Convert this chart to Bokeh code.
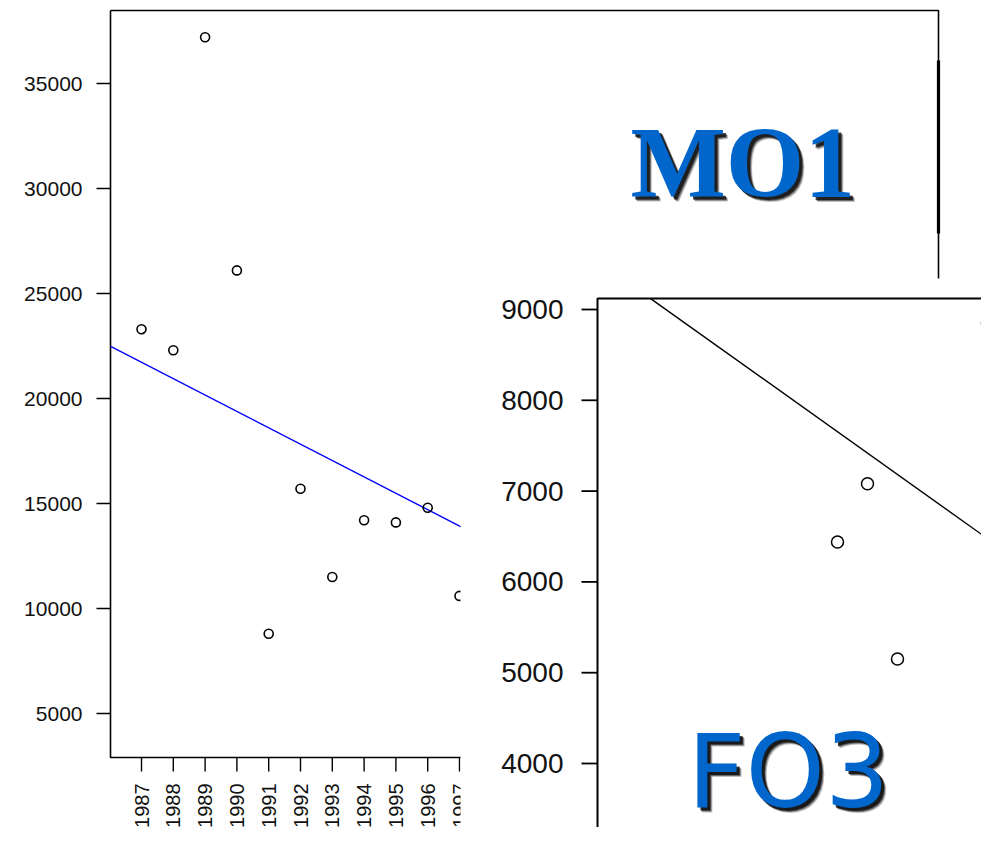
import math
from bokeh.plotting import figure
from bokeh.models import Range1d
from bokeh.core.properties import value
from bokeh.embed import file_html
from bokeh.resources import INLINE

# ---------------- data ----------------
mo1_years = [1987, 1988, 1989, 1990, 1991, 1992, 1993, 1994, 1995, 1996, 1997]
mo1_values = [23300, 22300, 37200, 26100, 8800, 15700, 11500, 14200, 14100, 14800, 10600]
mo1_fit_years = [1986.03, 1997.6]
mo1_fit_values = [22480, 13460]
mo1_ytick_values = [5000, 10000, 15000, 20000, 25000, 30000, 35000]
mo1_ytick_labels = ["5000", "10000", "15000", "20000", "25000", "30000", "35000"]
mo1_xtick_values = [1987, 1988, 1989, 1990, 1991, 1992, 1993, 1994, 1995, 1996, 1997]
mo1_xtick_labels = ["1987", "1988", "1989", "1990", "1991", "1992", "1993", "1994", "1995", "1996", "1997"]

fo3_index = [8, 9, 10, 13]
fo3_values = [6440, 7080, 5150, 8850]
fo3_fit_index = [1.77, 13.07]
fo3_fit_values = [9120, 6460]
fo3_ytick_values = [4000, 5000, 6000, 7000, 8000, 9000]
fo3_ytick_labels = ["4000", "5000", "6000", "7000", "8000", "9000"]

# ---------------- layout (picture pixels) ----------------
W, H = 981, 827
X0, Y0 = 0, 0


def p1x(X):
    return 1987 + (X - 141) / 31.8


def p1y(Y):
    return 35000 - (Y - 83) / 0.021


def p2x(X):
    return 8 + (X - 837) / 30.0


def p2y(Y):
    return 9000 - (Y - 309) / 0.0908


p = figure(width=W, height=H, output_backend="svg", toolbar_location=None,
           x_axis_location=None, y_axis_location=None,
           x_range=Range1d(p1x(X0), p1x(X0 + W)),
           y_range=Range1d(p1y(Y0 + H), p1y(Y0)),
           min_border=0, background_fill_color="white", border_fill_color="white")
p.outline_line_color = None
p.grid.visible = False
p.extra_x_ranges = {"fo3x": Range1d(p2x(X0), p2x(X0 + W))}
p.extra_y_ranges = {"fo3y": Range1d(p2y(Y0 + H), p2y(Y0))}

LAB = value("Liberation Sans")

# ---------------- panel 1 (MO1) ----------------
fl, fr, ft, fb = p1x(110), p1x(938), p1y(10), p1y(757)
p.line([fl, fr, fr, fl, fl], [ft, ft, fb, fb, ft], line_color="black", line_width=1.6)
# thick piece on the right border
p.line([fr, fr], [p1y(60), p1y(233)], line_color="black", line_width=3.2)

# y axis
p.segment(x0=[fl] * len(mo1_ytick_values), y0=mo1_ytick_values,
          x1=[p1x(96)] * len(mo1_ytick_values), y1=mo1_ytick_values,
          line_color="black", line_width=1.4)
p.text(x=[p1x(82)] * len(mo1_ytick_values), y=mo1_ytick_values, text=mo1_ytick_labels,
       text_font=LAB, text_font_size="21px", text_align="right", text_baseline="middle",
       text_color="#111111")
# x axis
p.segment(x0=mo1_xtick_values, y0=[fb] * len(mo1_xtick_values),
          x1=mo1_xtick_values, y1=[p1y(771)] * len(mo1_xtick_values),
          line_color="black", line_width=1.4)
p.text(x=mo1_xtick_values, y=[p1y(783)] * len(mo1_xtick_values), text=mo1_xtick_labels,
       angle=math.pi / 2, text_font=LAB, text_font_size="20px", text_align="right",
       text_baseline="middle", text_color="#111111")

p.line(mo1_fit_years, mo1_fit_values, line_color="#0000ff", line_width=1.4)
p.scatter(mo1_years, mo1_values, marker="circle", size=9, fill_color=None,
          line_color="black", line_width=1.6)

# MO1 title with drop shadow
MO_X, MO_Y = 630, 162
MO_SIZE = "101px"
for dx, dy, a in [(5, 5, 0.25), (4, 4, 0.45), (3, 3, 0.7)]:
    p.text(x=[p1x(MO_X + dx)], y=[p1y(MO_Y + dy)], text=["MO1"],
           text_font=value("Liberation Serif"), text_font_style="bold",
           text_font_size=MO_SIZE, text_align="left", text_baseline="middle",
           text_color="black", text_alpha=a)
p.text(x=[p1x(MO_X)], y=[p1y(MO_Y)], text=["MO1"],
       text_font=value("Liberation Serif"), text_font_style="bold",
       text_font_size=MO_SIZE, text_align="left", text_baseline="middle",
       text_color="#0066cc")

# ---------------- panel 2 (FO3) ----------------
R2 = dict(x_range_name="fo3x", y_range_name="fo3y")
p.quad(left=[p2x(460)], right=[p2x(X0 + W + 2)], bottom=[p2y(Y0 + H + 2)], top=[p2y(278)],
       fill_color="white", line_color=None, **R2)
gl, gt = p2x(597), p2y(298)
p.line([p2x(X0 + W + 2), gl, gl], [gt, gt, p2y(Y0 + H + 2)], line_color="black",
       line_width=2.0, **R2)
p.segment(x0=[gl] * len(fo3_ytick_values), y0=fo3_ytick_values,
          x1=[p2x(581)] * len(fo3_ytick_values), y1=fo3_ytick_values,
          line_color="black", line_width=1.8, **R2)
p.text(x=[p2x(563)] * len(fo3_ytick_values), y=fo3_ytick_values, text=fo3_ytick_labels,
       text_font=LAB, text_font_size="28px", text_align="right", text_baseline="middle",
       text_color="#111111", **R2)
p.line(fo3_fit_index, fo3_fit_values, line_color="black", line_width=1.4, **R2)
p.scatter(fo3_index, fo3_values, marker="circle", size=12, fill_color=None,
          line_color="black", line_width=1.5, **R2)

FO_X, FO_Y = 687, 771
for dx, dy, a in [(5, 5, 0.25), (4, 4, 0.45), (3, 3, 0.75)]:
    p.text(x=[p2x(FO_X + dx)], y=[p2y(FO_Y + dy)], text=["FO3"],
           text_font=value("DejaVu Sans"), text_font_size="101px", text_align="left",
           text_baseline="middle", text_color="black", text_alpha=a, **R2)
p.text(x=[p2x(FO_X)], y=[p2y(FO_Y)], text=["FO3"],
       text_font=value("DejaVu Sans"), text_font_size="101px", text_align="left",
       text_baseline="middle", text_color="#0066cc", **R2)

open("out.html", "w").write(file_html(p, INLINE))
